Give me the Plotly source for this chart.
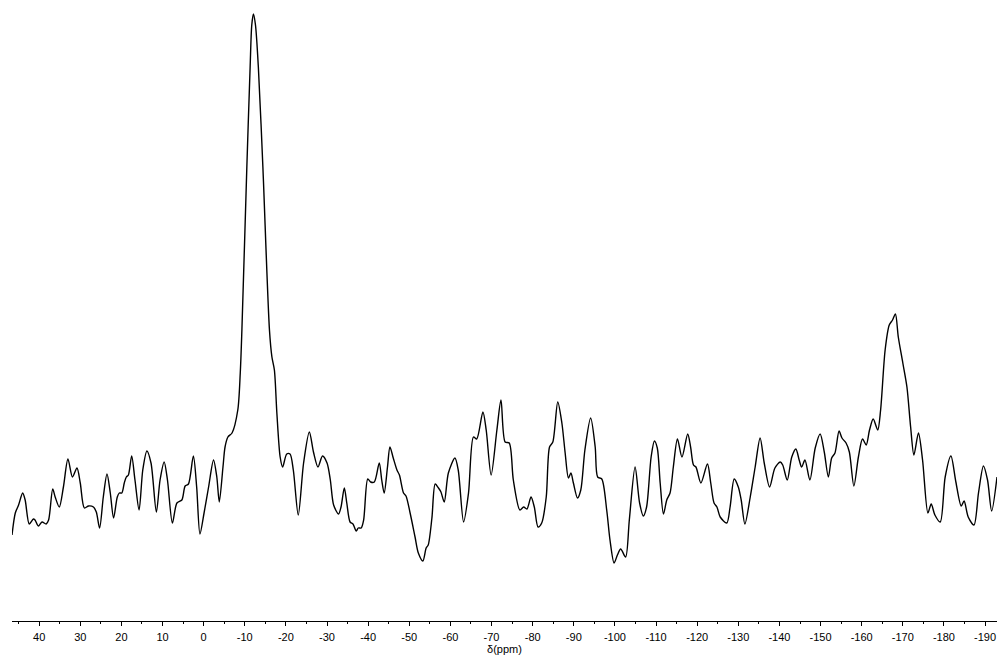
import plotly.graph_objects as go

# Chemical shift (ppm) and intensity (a.u.)
ppm = [46.6, 45.8, 45.0, 44.0, 43.4, 42.4, 41.4, 41.0, 40.2, 39.3, 38.3, 37.7, 36.7, 36.1, 35.1, 34.1,
       33.0, 31.9, 30.8, 30.0, 29.0, 28.0, 26.8, 26.1, 25.3, 24.4, 23.5, 22.7, 21.9, 21.0, 20.5, 19.9,
       19.3, 18.8, 18.3, 17.5, 16.7, 15.7, 14.8, 13.8, 12.8, 11.5, 10.6, 9.6, 8.8, 7.6, 6.5, 5.3,
       4.5, 3.7, 2.5, 1.7, 0.9, -0.1, -1.2, -2.4, -3.2, -3.8, -4.7, -5.2, -5.9, -6.9, -8.3, -8.9,
       -9.3, -10.5, -11.3, -11.7, -12.1, -12.6, -13.3, -14.4, -16.0, -16.6, -17.2, -17.8, -18.6, -19.2,
       -20.2, -21.0, -21.8, -23.0, -24.3, -25.7, -26.7, -27.8, -28.9, -30.0, -30.8, -31.6, -32.8, -33.4,
       -34.2, -34.8, -35.6, -36.3, -37.1, -37.6, -38.3, -38.9, -39.9, -40.6, -41.5, -42.7, -43.3, -43.9,
       -44.7, -45.3, -46.1, -47.0, -47.6, -48.6, -49.2, -50.2, -51.4, -52.2, -53.3, -54.1, -54.6, -55.5,
       -56.3, -57.1, -57.7, -58.5, -59.5, -61.1, -61.9, -63.2, -64.4, -65.6, -66.4, -67.9, -68.7, -69.9,
       -71.3, -72.3, -73.3, -74.3, -75.3, -76.9, -77.8, -78.6, -79.6, -80.4, -81.3, -82.2, -83.3, -84.1,
       -84.9, -86.1, -87.1, -87.9, -88.7, -89.3, -89.9, -90.9, -91.7, -92.7, -94.1, -95.2, -95.8, -96.8,
       -98.0, -98.8, -99.8, -100.6, -101.4, -102.6, -103.5, -104.9, -106.0, -106.9, -107.7, -108.8,
       -109.6, -110.3, -111.0, -111.8, -112.6, -113.4, -114.2, -115.2, -116.3, -117.7, -118.4, -119.1,
       -119.7, -120.9, -122.5, -123.3, -124.1, -124.8, -125.6, -127.2, -128.0, -129.0, -130.0, -130.7,
       -131.6, -132.9, -134.1, -135.3, -136.3, -137.6, -138.9, -140.2, -140.8, -141.9, -143.0, -144.0,
       -144.8, -145.4, -146.2, -147.4, -148.7, -149.9, -150.9, -151.9, -152.7, -153.5, -154.5, -155.2,
       -156.2, -157.0, -158.1, -159.2, -160.2, -161.1, -161.9, -162.8, -163.9, -164.6, -165.7, -166.7,
       -167.5, -168.2, -168.9, -170.0, -171.0, -171.9, -172.7, -173.8, -174.8, -176.1, -176.9, -177.8,
       -179.1, -180.3, -181.7, -182.9, -184.2, -184.9, -185.9, -187.3, -188.4, -189.6, -190.6, -191.6,
       -192.9]

intensity = [86, 108, 116, 128, 121, 97, 102, 101, 95, 99, 97, 101, 132, 124, 114, 134,
             162, 144, 153, 138, 113, 115, 114, 109, 93, 124, 147, 128, 103, 124, 128, 128,
             138, 144, 146, 165, 141, 111, 151, 170, 158, 109, 141, 159, 141, 98, 118, 121,
             135, 137, 165, 134, 87, 108, 134, 161, 144, 119, 154, 174, 184, 188, 211, 248,
             291, 454, 554, 596, 607, 596, 554, 454, 291, 264, 251, 208, 164, 154,
             167, 167, 151, 106, 158, 189, 169, 154, 165, 158, 141, 116, 107, 114,
             133, 118, 99, 97, 90, 93, 93, 101, 142, 139, 139, 158, 141, 128,
             154, 174, 163, 151, 146, 128, 125, 108, 84, 68, 60, 73, 76, 103,
             137, 133, 129, 119, 148, 163, 151, 99, 128, 184, 182, 209, 191, 146,
             191, 221, 179, 178, 141, 111, 114, 112, 124, 114, 94, 98, 124, 174,
             179, 219, 198, 168, 143, 148, 138, 123, 131, 171, 203, 174, 144, 142,
             111, 81, 58, 66, 72, 64, 101, 154, 118, 105, 114, 164,
             180, 173, 138, 107, 121, 128, 154, 182, 164, 187, 174, 156,
             154, 138, 157, 138, 118, 114, 104, 98, 114, 142, 134, 121,
             97, 124, 154, 183, 158, 134, 153, 159, 156, 141, 164, 172,
             161, 154, 161, 141, 173, 187, 169, 144, 163, 168, 190, 183,
             178, 169, 135, 164, 182, 176, 191, 202, 191, 211, 271, 296,
             301, 307, 284, 258, 234, 194, 166, 188, 161, 108, 117, 106,
             99, 144, 165, 139, 115, 120, 104, 96, 128, 155, 141, 110,
             144]

tick_values = list(range(40, -191, -10))
tick_labels = [str(v) for v in tick_values]

fig = go.Figure()
fig.add_trace(go.Scatter(
    x=ppm, y=intensity, mode="lines",
    line=dict(color="black", width=1.4, shape="spline", smoothing=0.8),
    showlegend=False, hoverinfo="skip",
))

fig.update_layout(
    width=998, height=655,
    margin=dict(l=12, r=1, t=0, b=34),
    paper_bgcolor="white", plot_bgcolor="white",
    font=dict(family="Liberation Sans, Arial, sans-serif", size=11, color="black"),
)
fig.update_xaxes(
    range=[46.6, -192.9],
    tickvals=tick_values, ticktext=tick_labels,
    ticks="outside", ticklen=4, tickwidth=1, tickcolor="black",
    ticklabelstandoff=2,
    minor=dict(dtick=5, tick0=0, ticks="outside", ticklen=2, tickwidth=1, tickcolor="black"),
    showline=True, linecolor="black", linewidth=1,
    showgrid=False, zeroline=False,
    tickfont=dict(size=11, color="black"),
    title=dict(text="δ(ppm)", font=dict(size=11, color="black"), standoff=0),
)
fig.update_yaxes(range=[0, 621], visible=False, showgrid=False, zeroline=False)

fig.write_html("out.html")
